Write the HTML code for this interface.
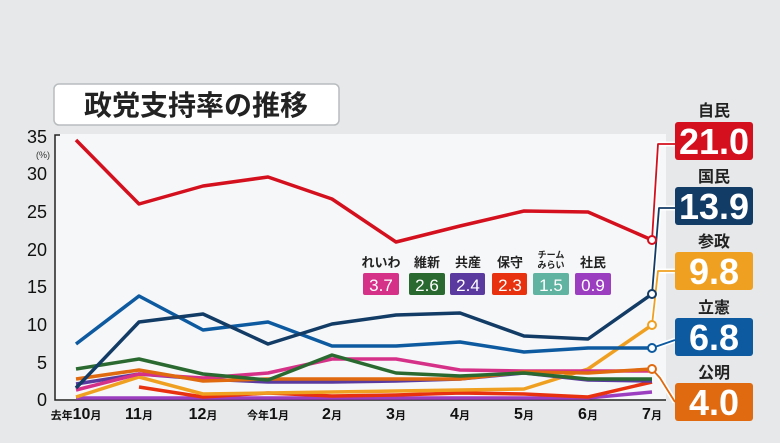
<!DOCTYPE html>
<html><head><meta charset="utf-8"><style>
body{margin:0;width:780px;height:438px;background:#e6e8e9;overflow:hidden;font-family:"Liberation Sans","Noto Sans CJK JP",sans-serif}
</style></head><body>
<svg width="780" height="438" viewBox="0 0 780 438" xmlns="http://www.w3.org/2000/svg" font-family="Liberation Sans, Noto Sans CJK JP, sans-serif">
<rect width="780" height="438" fill="#e6e8e9"/>
<rect x="55" y="134" width="611" height="266" fill="#f6f7f8"/>
<rect x="54" y="84" width="285" height="41" rx="5" fill="#fff" stroke="#b9bcbf" stroke-width="1.5"/>
<text x="196" y="115" text-anchor="middle" font-size="28" font-weight="bold" fill="#222">政党支持率の推移</text>
<g stroke="#222" stroke-width="1.5" fill="none"><polyline points="60,135 55,135 55,400 666,400"/></g>
<g font-size="18" fill="#111" text-anchor="end">
<text x="47" y="143">35</text><text x="47" y="180">30</text><text x="47" y="218">25</text><text x="47" y="256">20</text><text x="47" y="293">15</text><text x="47" y="331">10</text><text x="47" y="369">5</text><text x="47" y="406">0</text>
</g>
<text x="50" y="158" font-size="9" fill="#333" text-anchor="end">(%)</text>
<g font-size="16" fill="#111" text-anchor="middle" font-weight="bold">
<text x="76" y="419"><tspan font-size="11">去年</tspan>10<tspan font-size="11">月</tspan></text>
<text x="139" y="419">11<tspan font-size="11">月</tspan></text>
<text x="203" y="419">12<tspan font-size="11">月</tspan></text>
<text x="268" y="419"><tspan font-size="11">今年</tspan>1<tspan font-size="11">月</tspan></text>
<text x="332" y="419">2<tspan font-size="11">月</tspan></text>
<text x="396" y="419">3<tspan font-size="11">月</tspan></text>
<text x="460" y="419">4<tspan font-size="11">月</tspan></text>
<text x="524" y="419">5<tspan font-size="11">月</tspan></text>
<text x="588" y="419">6<tspan font-size="11">月</tspan></text>
<text x="652" y="419">7<tspan font-size="11">月</tspan></text>
</g>
<g fill="none" stroke-width="3.5" stroke-linejoin="round">
<polyline stroke="#9b3fc0" points="76,398 139,398 203,398 268,398 332,398 396,398 460,398 524,398 588,398 652,392"/>
<polyline stroke="#e8320f" points="139,387 203,397 268,393 332,396 396,395 460,393 524,394 588,397 652,382"/>
<polyline stroke="#f0a020" points="76,397 139,377 203,394 268,393 332,392 396,391 460,390 524,389 588,369 652,325"/>
<polyline stroke="#5a3a9e" points="76,384 139,374 203,379 268,382 332,382 396,381 460,379 524,373 588,380 652,381"/>
<polyline stroke="#d63189" points="76,390 139,374 203,378 268,373 332,359 396,359 460,370 524,371 588,371 652,371"/>
<polyline stroke="#e06a10" points="76,379 139,370 203,381 268,379 332,379 396,379 460,379 524,372 588,373 652,369"/>
<polyline stroke="#2a6a30" points="76,369 139,359 203,374 268,380 332,355 396,373 460,376 524,373 588,379 652,379"/>
<polyline stroke="#0d5aa0" points="76,344 139,296 203,330 268,322 332,346 396,346 460,342 524,352 588,348 652,348"/>
<polyline stroke="#123b66" points="76,388 139,322 203,314 268,344 332,324 396,315 460,313 524,336 588,339 652,294"/>
<polyline stroke="#d4101e" points="76,140 139,204 203,186 268,177 332,199 396,242 460,226 524,211 588,212 652,240"/>
</g>
<g fill="none" stroke-linejoin="round">
<g stroke="#fff" stroke-width="5">
<polyline points="652,240 658,144 675,144"/><polyline points="652,294 659,208 675,208"/><polyline points="652,325 658,271 675,271"/><polyline points="652,348 675,340"/><polyline points="652,369 660,378 675,402"/>
</g>
<polyline stroke="#d4101e" stroke-width="1.8" points="652,240 658,144 675,144"/>
<polyline stroke="#123b66" stroke-width="1.8" points="652,294 659,208 675,208"/>
<polyline stroke="#f0a020" stroke-width="1.8" points="652,325 658,271 675,271"/>
<polyline stroke="#0d5aa0" stroke-width="1.8" points="652,348 675,340"/>
<polyline stroke="#e06a10" stroke-width="1.8" points="652,369 660,378 675,402"/>
</g>
<g fill="#fff" stroke-width="2">
<circle cx="652" cy="240" r="4" stroke="#d4101e"/><circle cx="652" cy="294" r="4" stroke="#123b66"/><circle cx="652" cy="325" r="4" stroke="#f0a020"/><circle cx="652" cy="348" r="4" stroke="#0d5aa0"/><circle cx="652" cy="369" r="4" stroke="#e06a10"/>
</g>
<g font-size="16" font-weight="bold" fill="#222" text-anchor="middle">
<text x="714" y="116">自民</text><text x="714" y="182">国民</text><text x="714" y="247">参政</text><text x="714" y="313">立憲</text><text x="714" y="378">公明</text>
</g>
<rect x="675" y="122" width="78" height="38" rx="3" fill="#d4101e"/>
<rect x="675" y="187" width="78" height="38" rx="3" fill="#123b66"/>
<rect x="675" y="252" width="78" height="38" rx="3" fill="#f0a020"/>
<rect x="675" y="318" width="78" height="38" rx="3" fill="#0d5aa0"/>
<rect x="675" y="383" width="78" height="38" rx="3" fill="#e06a10"/>
<g font-size="36" font-weight="bold" fill="#fff" text-anchor="middle">
<text x="714" y="154">21.0</text><text x="714" y="219">13.9</text><text x="714" y="284">9.8</text><text x="714" y="350">6.8</text><text x="714" y="415">4.0</text>
</g>
<g font-size="13" font-weight="bold" fill="#222" text-anchor="middle">
<text x="381" y="267">れいわ</text><text x="427" y="267">維新</text><text x="468" y="267">共産</text><text x="510" y="267">保守</text><text x="593" y="267">社民</text>
<text x="551" y="258" font-size="9">チーム</text><text x="551" y="268" font-size="9">みらい</text>
</g>
<rect x="363" y="273" width="36" height="22" rx="2" fill="#d63189"/>
<rect x="409" y="273" width="36" height="22" rx="2" fill="#2a6a30"/>
<rect x="450" y="273" width="35" height="22" rx="2" fill="#5a3a9e"/>
<rect x="492" y="273" width="35" height="22" rx="2" fill="#e8320f"/>
<rect x="533" y="273" width="36" height="22" rx="2" fill="#5fb3a0"/>
<rect x="575" y="273" width="36" height="22" rx="2" fill="#9b3fc0"/>
<g font-size="17" fill="#fff" text-anchor="middle">
<text x="381" y="291">3.7</text><text x="427" y="291">2.6</text><text x="468" y="291">2.4</text><text x="510" y="291">2.3</text><text x="551" y="291">1.5</text><text x="593" y="291">0.9</text>
</g>
</svg>
</body></html>
